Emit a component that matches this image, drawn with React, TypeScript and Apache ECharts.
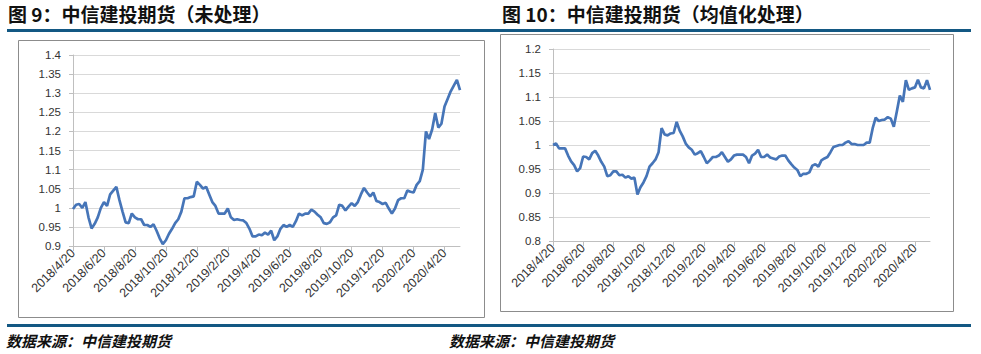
import React, { useEffect, useRef } from "react";
import * as echarts from "echarts";

// Tick labels on the date axes (one every two months)
const xTickLabels = [
  "2018/4/20", "2018/6/20", "2018/8/20", "2018/10/20", "2018/12/20",
  "2019/2/20", "2019/4/20", "2019/6/20", "2019/8/20", "2019/10/20",
  "2019/12/20", "2020/2/20", "2020/4/20",
];
// position step of each sample, in units of one tick interval (two months)
const sampleStep = 0.1;
const xMax = 12.5;

// Figure 9: raw (unprocessed) index
const rawValues = [
  0.997, 1.008, 1.01, 1.0, 1.015, 0.975, 0.946, 0.958, 0.975, 1.0,
  1.015, 1.005, 1.035, 1.045, 1.055, 1.02, 0.99, 0.962, 0.96, 0.985,
  0.975, 0.97, 0.97, 0.955, 0.955, 0.95, 0.957, 0.94, 0.92, 0.905,
  0.915, 0.932, 0.945, 0.96, 0.97, 0.99, 1.025, 1.025, 1.028, 1.03,
  1.068, 1.06, 1.05, 1.055, 1.035, 1.015, 1.005, 0.985, 0.985, 0.985,
  0.998, 0.975, 0.968, 0.97, 0.968, 0.967, 0.96, 0.945, 0.925, 0.925,
  0.93, 0.928, 0.935, 0.93, 0.94, 0.915, 0.925, 0.945, 0.955, 0.95,
  0.955, 0.95, 0.965, 0.985, 0.98, 0.985, 0.985, 0.995, 0.99, 0.982,
  0.975, 0.96, 0.958, 0.962, 0.975, 0.98, 1.008, 1.005, 0.993, 1.003,
  1.012, 1.005, 1.015, 1.035, 1.052, 1.04, 1.03, 1.04, 1.018, 1.015,
  1.01, 1.013, 0.998, 0.985, 0.998, 1.02, 1.025, 1.025, 1.045, 1.042,
  1.04, 1.06, 1.07, 1.1, 1.2, 1.18, 1.205, 1.248, 1.21, 1.22,
  1.265, 1.285, 1.305, 1.32, 1.335, 1.308,
];

// Figure 10: mean-normalised index
const meanValues = [
  1.0, 1.003, 0.993, 0.993, 0.993, 0.978, 0.966, 0.958, 0.945, 0.952,
  0.976, 0.975, 0.97, 0.983, 0.988, 0.978, 0.965, 0.955, 0.935, 0.937,
  0.945, 0.945, 0.937, 0.938, 0.932, 0.935, 0.93, 0.932, 0.897, 0.912,
  0.922, 0.935, 0.955, 0.962, 0.97, 0.985, 1.035, 1.022, 1.02, 1.024,
  1.025, 1.048, 1.03, 1.018, 1.003, 0.995, 0.99, 0.98, 0.983, 0.987,
  0.975, 0.962, 0.968, 0.975, 0.975, 0.978, 0.985, 0.975, 0.965, 0.97,
  0.978, 0.98, 0.98, 0.98, 0.975, 0.962, 0.978, 0.982, 0.99, 0.975,
  0.975, 0.98, 0.974, 0.972, 0.97, 0.976, 0.978, 0.978, 0.968, 0.96,
  0.953, 0.948, 0.935, 0.94, 0.94, 0.943, 0.957, 0.96, 0.955, 0.968,
  0.972, 0.975, 0.985, 0.996, 0.998, 1.0, 1.0, 1.005, 1.008, 1.002,
  1.002, 1.0, 1.0, 1.0, 1.005, 1.005, 1.035, 1.057, 1.05, 1.052,
  1.053, 1.058, 1.055, 1.038, 1.07, 1.103, 1.09, 1.135, 1.115, 1.118,
  1.12, 1.136, 1.12, 1.118, 1.135, 1.115,
];

const leftTitle = "图 9：中信建投期货（未处理）";
const rightTitle = "图 10：中信建投期货（均值化处理）";
const sourceText = "数据来源：中信建投期货";

const LINE_COLOR = "#4675B8";
const BAND_COLOR = "#135883";
const AXIS_COLOR = "#bfbfbf";
const GRID_COLOR = "#d9d9d9";
const LABEL_COLOR = "#333333";
const LABEL_FONT = "Liberation Sans";
const CJK_FONT = "Noto Sans CJK SC";

const tickPositions = xTickLabels.map((_, i) => i);

function fmtY(v: number) {
  return String(Number(v.toFixed(2)));
}

function makeXAxis(gridIndex: number) {
  return {
    type: "value",
    gridIndex,
    min: 0,
    max: xMax,
    interval: 1,
    axisLine: { show: true, lineStyle: { color: AXIS_COLOR, width: 1 } },
    axisTick: {
      show: true,
      length: 5,
      customValues: tickPositions,
      lineStyle: { color: AXIS_COLOR },
    },
    axisLabel: {
      customValues: tickPositions,
      rotate: 45,
      margin: 5,
      fontSize: 12.5,
      color: LABEL_COLOR,
      fontFamily: LABEL_FONT,
      formatter: (v: number) => xTickLabels[Math.round(v)] ?? "",
    },
    splitLine: { show: false },
  };
}

function makeYAxis(gridIndex: number, min: number, max: number) {
  return {
    type: "value",
    gridIndex,
    min,
    max,
    interval: 0.05,
    axisLine: { show: true, lineStyle: { color: AXIS_COLOR, width: 1 } },
    axisTick: { show: true, length: 4, lineStyle: { color: AXIS_COLOR } },
    axisLabel: {
      margin: 12,
      fontSize: 11.5,
      color: LABEL_COLOR,
      fontFamily: LABEL_FONT,
      formatter: fmtY,
    },
    splitLine: { show: true, lineStyle: { color: GRID_COLOR, width: 1.2 } },
  };
}

export default function App() {
  const ref = useRef<HTMLDivElement>(null);

  useEffect(() => {
    document.body.style.margin = "0";
    if (!ref.current) return;
    const chart = echarts.init(ref.current, undefined, { renderer: "svg" });

    const titleStyle = {
      fontSize: 19,
      fontWeight: "bold",
      fontFamily: CJK_FONT,
      fill: "#111",
    };
    const sourceStyle = {
      fontSize: 15,
      fontWeight: "bold",
      fontStyle: "italic",
      fontFamily: CJK_FONT,
      fill: "#111",
    };

    chart.setOption({
      animation: false,
      backgroundColor: "#ffffff",
      grid: [
        { left: 73, top: 55, width: 387, height: 191 },
        { left: 553, top: 49, width: 377, height: 192 },
      ],
      xAxis: [makeXAxis(0), makeXAxis(1)],
      yAxis: [makeYAxis(0, 0.9, 1.4), makeYAxis(1, 0.8, 1.2)],
      series: [
        {
          type: "line",
          xAxisIndex: 0,
          yAxisIndex: 0,
          showSymbol: false,
          data: rawValues.map((v, i) => [i * sampleStep, v]),
          lineStyle: { color: LINE_COLOR, width: 2.7 },
          itemStyle: { color: LINE_COLOR },
        },
        {
          type: "line",
          xAxisIndex: 1,
          yAxisIndex: 1,
          showSymbol: false,
          data: meanValues.map((v, i) => [i * sampleStep, v]),
          lineStyle: { color: LINE_COLOR, width: 2.7 },
          itemStyle: { color: LINE_COLOR },
        },
      ],
      graphic: [
        { type: "text", left: 8, top: 4, style: { ...titleStyle, text: leftTitle } },
        { type: "text", left: 502, top: 4, style: { ...titleStyle, text: rightTitle } },
        { type: "rect", shape: { x: 7, y: 29, width: 964, height: 3 }, style: { fill: BAND_COLOR } },
        { type: "rect", shape: { x: 7, y: 324, width: 964, height: 3 }, style: { fill: BAND_COLOR } },
        {
          type: "rect",
          shape: { x: 18.5, y: 40.5, width: 466, height: 277 },
          style: { fill: "none", stroke: "#8c8c8c", lineWidth: 1 },
        },
        {
          type: "rect",
          shape: { x: 500.5, y: 34.5, width: 453, height: 277 },
          style: { fill: "none", stroke: "#8c8c8c", lineWidth: 1 },
        },
        { type: "text", left: 6, top: 333, style: { ...sourceStyle, text: sourceText } },
        { type: "text", left: 449, top: 333, style: { ...sourceStyle, text: sourceText } },
      ],
    });

    return () => chart.dispose();
  }, []);

  return <div ref={ref} style={{ width: 981, height: 354 }} />;
}
